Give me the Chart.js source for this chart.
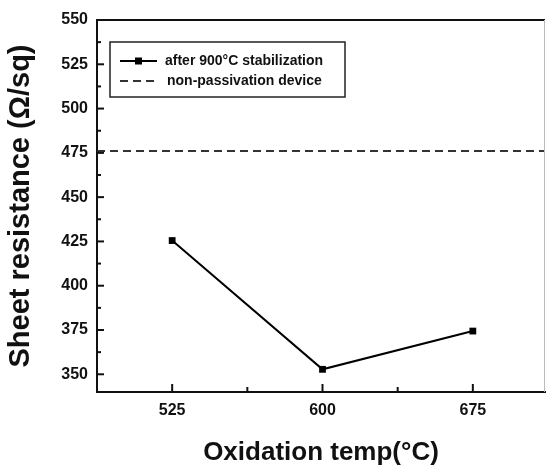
<!DOCTYPE html>
<html><head><meta charset="utf-8">
<script src="https://cdn.jsdelivr.net/npm/chart.js@4"></script>
<style>html,body{margin:0;padding:0;background:#fff}#wrap{width:546px;height:471px}</style>
</head><body><div id="wrap"><canvas id="c" width="546" height="471"></canvas></div>
<script>
const temps = [525, 600, 675];
const sheetResistance = [425.5, 352.8, 374.4];
const nonPassivationLevel = 476;
const xTickValues = [525, 600, 675];
const yTickValues = [350, 375, 400, 425, 450, 475, 500, 525, 550];
const xRange = [487.5, 711];
const yRange = [340, 550];
const seriesLabels = ['after 900°C stabilization', 'non-passivation device'];
const xTitle = 'Oxidation temp(°C)';
const yTitle = 'Sheet resistance (Ω/sq)';

const FONT = "'Liberation Sans', Arial, sans-serif";

function minorOf(arr, lo, hi) {
  const step = arr[1] - arr[0];
  const out = [];
  for (let v = arr[0] - step / 2; v <= arr[arr.length - 1] + step / 2; v += step) {
    if (v > lo && v < hi) out.push(v);
  }
  return out;
}

const frameTicks = {
  id: 'frameTicks',
  afterDatasetsDraw(chart) {
    const {ctx, chartArea: a, scales: {x, y}} = chart;
    const seg = (x1, y1, x2, y2) => { ctx.beginPath(); ctx.moveTo(x1, y1); ctx.lineTo(x2, y2); ctx.stroke(); };
    ctx.save();
    ctx.strokeStyle = '#111';
    ctx.lineWidth = 2;
    seg(a.left, a.top, a.right, a.top);
    ctx.strokeStyle = '#bbb'; ctx.lineWidth = 1;
    seg(a.right - 0.5, a.top, a.right - 0.5, a.bottom);
    ctx.strokeStyle = '#111'; ctx.lineWidth = 2;
    yTickValues.forEach(v => { const p = y.getPixelForValue(v); seg(a.left, p, a.left + 7, p); });
    minorOf(yTickValues, yRange[0], yRange[1]).forEach(v => { const p = y.getPixelForValue(v); seg(a.left, p, a.left + 4, p); });
    xTickValues.forEach(v => { const p = x.getPixelForValue(v); seg(p, a.bottom, p, a.bottom - 8); });
    minorOf(xTickValues, xRange[0], xRange[1]).forEach(v => { const p = x.getPixelForValue(v); seg(p, a.bottom, p, a.bottom - 5); });
    ctx.restore();
  }
};

const boxLegend = {
  id: 'boxLegend',
  afterDraw(chart) {
    const {ctx, chartArea: a} = chart;
    const bx = a.left + 13, by = a.top + 22, bw = 235, bh = 55;
    ctx.save();
    ctx.strokeStyle = '#222'; ctx.lineWidth = 1.5;
    ctx.strokeRect(bx, by, bw, bh);
    ctx.font = 'bold 14px ' + FONT;
    ctx.fillStyle = '#111';
    ctx.textBaseline = 'middle';
    chart.data.datasets.forEach((ds, i) => {
      const cy = by + 19 + i * 20;
      const x1 = bx + 10, x2 = bx + 47;
      ctx.strokeStyle = ds.borderColor;
      ctx.lineWidth = 2;
      ctx.setLineDash(ds.borderDash || []);
      ctx.beginPath(); ctx.moveTo(x1, cy); ctx.lineTo(x2, cy); ctx.stroke();
      ctx.setLineDash([]);
      if (ds.pointRadius > 0) {
        ctx.fillStyle = '#000';
        ctx.fillRect((x1 + x2) / 2 - 3.5, cy - 3.5, 7, 7);
      }
      ctx.fillStyle = '#111';
      ctx.fillText(ds.label, bx + 55 + (i === 1 ? 2 : 0), cy);
    });
    ctx.restore();
  }
};

new Chart(document.getElementById('c'), {
  type: 'scatter',
  data: {
    datasets: [
      {
        label: seriesLabels[0],
        data: temps.map((t, i) => ({x: t, y: sheetResistance[i]})),
        showLine: true,
        borderColor: '#000',
        borderWidth: 2,
        pointStyle: 'rect',
        pointRadius: 4.8,
        pointBackgroundColor: '#000',
        pointBorderWidth: 0
      },
      {
        label: seriesLabels[1],
        data: xRange.map(t => ({x: t, y: nonPassivationLevel})),
        showLine: true,
        borderColor: '#333',
        borderWidth: 2,
        borderDash: [8, 5],
        pointRadius: 0
      }
    ]
  },
  options: {
    responsive: false,
    animation: false,
    devicePixelRatio: 1,
    layout: {autoPadding: false, padding: {top: 20, right: 1, left: 0, bottom: 0}},
    plugins: {legend: {display: false}, tooltip: {enabled: false}},
    scales: {
      x: {
        type: 'linear',
        min: xRange[0], max: xRange[1],
        afterBuildTicks: s => { s.ticks = xTickValues.map(v => ({value: v})); },
        afterFit: s => { s.height = 79; s.paddingRight = 0; s.paddingLeft = 0; },
        grid: {display: false, drawTicks: false},
        border: {display: true, color: '#111', width: 2},
        ticks: {color: '#111', padding: 9, font: {family: FONT, size: 16, weight: 'bold'}},
        title: {display: true, text: xTitle, color: '#111', padding: {top: 0, bottom: 3}, font: {family: FONT, size: 26, weight: 'bold'}}
      },
      y: {
        type: 'linear',
        min: yRange[0], max: yRange[1],
        afterBuildTicks: s => { s.ticks = yTickValues.map(v => ({value: v})); },
        afterFit: s => { s.width = 97; },
        grid: {display: false, drawTicks: false},
        border: {display: true, color: '#111', width: 2},
        ticks: {color: '#111', padding: 9, font: {family: FONT, size: 16, weight: 'bold'}},
        title: {display: true, text: yTitle, color: '#111', padding: {top: 4, bottom: 0}, font: {family: FONT, size: 29, weight: 'bold'}}
      }
    }
  },
  plugins: [frameTicks, boxLegend]
});
</script></body></html>
